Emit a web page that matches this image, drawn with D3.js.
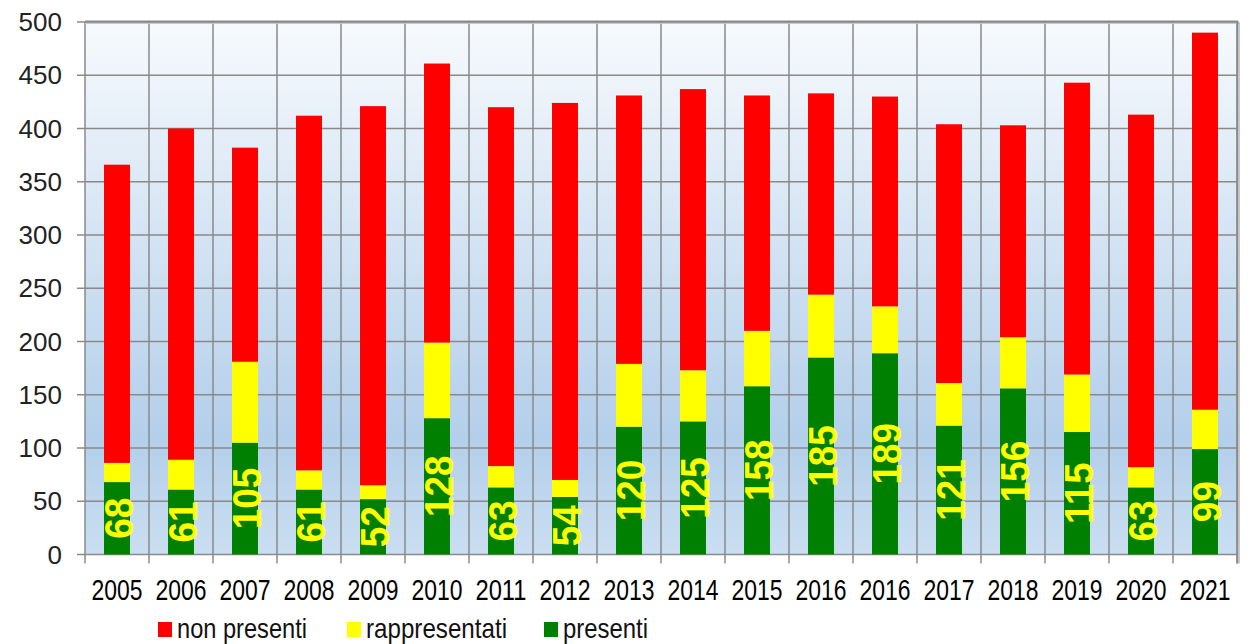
<!DOCTYPE html>
<html>
<head>
<meta charset="utf-8">
<script src="https://cdn.jsdelivr.net/npm/d3@7/dist/d3.min.js"></script>
<style>
  html, body { margin: 0; padding: 0; background: #fff; }
  svg { display: block; }
</style>
</head>
<body>
<svg id="chart" width="1252" height="644"></svg>
<script>
// ---- data ----
const categories = ["2005","2006","2007","2008","2009","2010","2011","2012","2013","2014","2015","2016","2016","2017","2018","2019","2020","2021"];
const presenti       = [68, 61, 105, 61, 52, 128, 63, 54, 120, 125, 158, 185, 189, 121, 156, 115, 63, 99];
const rappresentati  = [18, 28, 76, 18, 13, 71, 20, 16, 59, 48, 52, 59, 44, 40, 48, 54, 19, 37];
const nonPresenti    = [280, 311, 201, 333, 356, 262, 337, 354, 252, 264, 221, 189, 197, 243, 199, 274, 331, 354];
const yTicks = [0, 50, 100, 150, 200, 250, 300, 350, 400, 450, 500];
const seriesNames = ["non presenti", "rappresentati", "presenti"];
const seriesColors = { "presenti": "#008000", "rappresentati": "#FFFF00", "non presenti": "#FF0000" };

(function () {
// ---- layout ----
const svg = d3.select("#chart");
const pLeft = 85, pRight = 1237, pTop = 22, pBottom = 554.5;

const idx = categories.map((d, i) => i);
const x = d3.scaleBand().domain(idx).range([pLeft, pRight]).paddingInner(0.594).paddingOuter(0.297);
const y = d3.scaleLinear().domain([0, 500]).range([pBottom, pTop]);
const step = x.step();

// background gradient
const defs = svg.append("defs");
const grad = defs.append("linearGradient").attr("id", "bg").attr("x1", 0).attr("y1", 0).attr("x2", 0).attr("y2", 1);
grad.append("stop").attr("offset", "0").attr("stop-color", "#f7fafd");
grad.append("stop").attr("offset", "0.78").attr("stop-color", "#b3cfea");
grad.append("stop").attr("offset", "1").attr("stop-color", "#cadef1");

svg.append("rect").attr("x", pLeft).attr("y", pTop).attr("width", pRight - pLeft).attr("height", pBottom - pTop).attr("fill", "url(#bg)");

// grid
const gridColor = "#8a8a8a";
svg.append("g").selectAll("line").data(yTicks).join("line")
  .attr("x1", pLeft - 8).attr("x2", pRight)
  .attr("y1", d => y(d)).attr("y2", d => y(d))
  .attr("stroke", gridColor).attr("stroke-width", 1.5);
const bounds = d3.range(categories.length + 1);
svg.append("g").selectAll("line").data(bounds).join("line")
  .attr("x1", i => pLeft + i * step).attr("x2", i => pLeft + i * step)
  .attr("y1", pTop).attr("y2", pBottom + 9)
  .attr("stroke", gridColor).attr("stroke-width", 1.5);

// border shadow top/right
svg.append("line").attr("x1", pLeft).attr("x2", pRight + 1).attr("y1", pTop - 0.5).attr("y2", pTop - 0.5).attr("stroke", "#8a8a8a").attr("stroke-width", 2);
svg.append("line").attr("x1", pLeft).attr("x2", pRight + 2).attr("y1", pTop + 1.5).attr("y2", pTop + 1.5).attr("stroke", "#c8c8c8").attr("stroke-width", 1);
svg.append("line").attr("x1", pRight + 0.5).attr("x2", pRight + 0.5).attr("y1", pTop - 1).attr("y2", pBottom + 9).attr("stroke", "#8a8a8a").attr("stroke-width", 2);
svg.append("line").attr("x1", pRight + 2.5).attr("x2", pRight + 2.5).attr("y1", pTop).attr("y2", pBottom + 9).attr("stroke", "#c8c8c8").attr("stroke-width", 1);

// stacked bars
const rows = idx.map(i => ({ i, "presenti": presenti[i], "rappresentati": rappresentati[i], "non presenti": nonPresenti[i] }));
const stack = d3.stack().keys(["presenti", "rappresentati", "non presenti"]);
const stacked = stack(rows);
svg.append("g").selectAll("g").data(stacked).join("g")
  .attr("fill", s => seriesColors[s.key])
  .selectAll("rect").data(s => s).join("rect")
  .attr("x", d => x(d.data.i))
  .attr("width", x.bandwidth())
  .attr("y", d => y(d[1]))
  .attr("height", d => y(d[0]) - y(d[1]));

// bar labels (presenti)
svg.append("g").selectAll("text").data(idx).join("text")
  .attr("transform", i => `translate(${x(i) + x.bandwidth() / 2 + 1},${(y(0) + y(presenti[i])) / 2}) rotate(-90)`)
  .attr("text-anchor", "middle")
  .attr("dy", "0.36em")
  .attr("font-family", "'Liberation Sans', Arial, sans-serif")
  .attr("font-weight", "bold")
  .attr("font-size", 41)
  .attr("fill", "#FFFF00")
  .attr("textLength", i => String(presenti[i]).length * 20.5)
  .attr("lengthAdjust", "spacingAndGlyphs")
  .text(i => presenti[i]);

// y labels
svg.append("g").selectAll("text").data(yTicks).join("text")
  .attr("x", 62).attr("y", d => y(d) + 9)
  .attr("text-anchor", "end")
  .attr("font-family", "'Liberation Sans', Arial, sans-serif")
  .attr("font-size", 26)
  .attr("fill", "#222")
  .text(d => d);

// x labels
svg.append("g").selectAll("text").data(idx).join("text")
  .attr("x", i => x(i) + x.bandwidth() / 2)
  .attr("y", 599.5)
  .attr("text-anchor", "middle")
  .attr("font-family", "'Liberation Sans Narrow', 'Liberation Sans', Arial, sans-serif")
  .attr("font-size", 29)
  .attr("fill", "#000")
  .attr("textLength", 51)
  .attr("lengthAdjust", "spacingAndGlyphs")
  .text(i => categories[i]);

// legend
const legendItems = [
  { name: seriesNames[0], sx: 158, tx: 177, w: 130 },
  { name: seriesNames[1], sx: 347, tx: 366, w: 141 },
  { name: seriesNames[2], sx: 544, tx: 563, w: 85 }
];
const lg = svg.append("g");
lg.selectAll("rect").data(legendItems).join("rect")
  .attr("x", d => d.sx).attr("y", 622).attr("width", 14).attr("height", 15)
  .attr("fill", d => seriesColors[d.name]);
lg.selectAll("text").data(legendItems).join("text")
  .attr("x", d => d.tx).attr("y", 637.5)
  .attr("font-family", "'Liberation Sans Narrow', 'Liberation Sans', Arial, sans-serif")
  .attr("font-size", 28)
  .attr("fill", "#111")
  .attr("textLength", d => d.w)
  .attr("lengthAdjust", "spacingAndGlyphs")
  .text(d => d.name);
})();
</script>
</body>
</html>
